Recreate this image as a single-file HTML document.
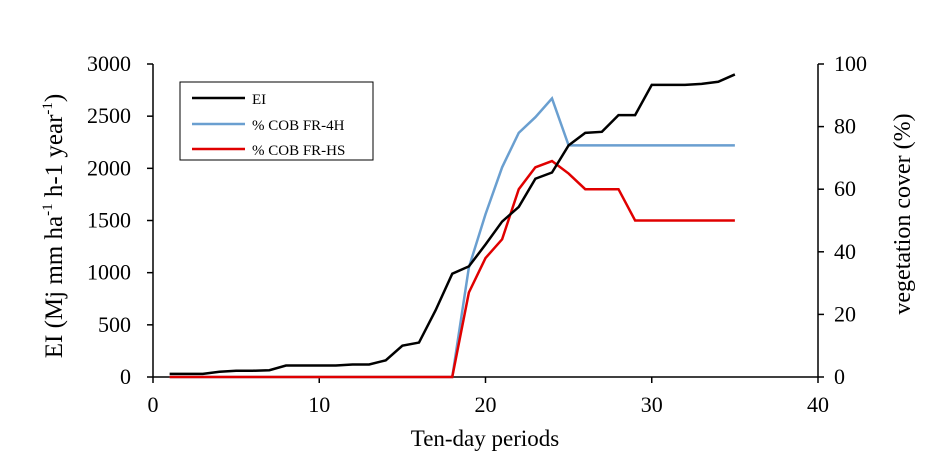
<!DOCTYPE html>
<html><head><meta charset="utf-8"><style>
body{margin:0;background:#fff}
svg text{font-family:"Liberation Serif",serif;fill:#000}
</style></head><body>
<svg width="938" height="458">
<g id="axes"></g><g id="series"></g>
<g>
<rect x="180" y="82" width="193" height="78" fill="#fff" stroke="#000" stroke-width="1"/>
<line x1="192" y1="98" x2="245" y2="98" stroke="#000" stroke-width="2.5"/>
<text x="252" y="104" font-size="15">EI</text>
<line x1="192" y1="124" x2="245" y2="124" stroke="#6a9fd0" stroke-width="2.5"/>
<text x="252" y="130" font-size="15">% COB FR-4H</text>
<line x1="192" y1="149" x2="245" y2="149" stroke="#e00000" stroke-width="2.5"/>
<text x="252" y="155" font-size="15">% COB FR-HS</text>
</g>
<text x="485" y="446" font-size="23" text-anchor="middle">Ten-day periods</text>
<text transform="translate(62,226) rotate(-90)" font-size="25" text-anchor="middle">EI (Mj mm ha<tspan font-size="15" dy="-10">-1</tspan><tspan dy="10"> h-1 year</tspan><tspan font-size="15" dy="-10">-1</tspan><tspan dy="10">)</tspan></text>
<text transform="translate(910,214) rotate(-90)" font-size="24" text-anchor="middle">vegetation cover (%)</text>
</svg>
<script>
const periods=[1,2,3,4,5,6,7,8,9,10,11,12,13,14,15,16,17,18,19,20,21,22,23,24,25,26,27,28,29,30,31,32,33,34,35];
const eiValues=[30,30,30,50,60,60,65,110,110,110,110,120,120,160,300,330,640,990,1060,1270,1490,1630,1900,1960,2220,2340,2350,2510,2510,2800,2800,2800,2810,2830,2900];
const cover4H=[0,0,0,0,0,0,0,0,0,0,0,0,0,0,0,0,0,0,35,52,67,78,83,89,74,74,74,74,74,74,74,74,74,74,74];
const coverHS=[0,0,0,0,0,0,0,0,0,0,0,0,0,0,0,0,0,0,27,38,44,60,67,69,65,60,60,60,50,50,50,50,50,50,50];
const xTicks=[0,10,20,30,40];
const yLeftTicks=[0,500,1000,1500,2000,2500,3000];
const yRightTicks=[0,20,40,60,80,100];
const X0=153,X1=818,Y0=377,Y1=64;
const sx=v=>X0+(v/40)*(X1-X0);
const syL=v=>Y0-(v/3000)*(Y0-Y1);
const syR=v=>Y0-(v/100)*(Y0-Y1);
const NS="http://www.w3.org/2000/svg";
function mk(tag,attrs,parent,txt){const e=document.createElementNS(NS,tag);for(const k in attrs)e.setAttribute(k,attrs[k]);if(txt!==undefined)e.textContent=txt;parent.appendChild(e);return e;}
const ax=document.getElementById('axes');
let l=mk('line',{x1:X0,y1:Y1,x2:X0,y2:Y0,stroke:'#000','stroke-width':1.5},ax);


l=mk('line',{x1:X1,y1:Y1,x2:X1,y2:Y0,stroke:'#000','stroke-width':1.5},ax);


l=mk('line',{x1:X0,y1:Y0,x2:X1,y2:Y0,stroke:'#000','stroke-width':1.5},ax);


xTicks.forEach(t=>{mk('line',{x1:sx(t),y1:Y0,x2:sx(t),y2:Y0+6,stroke:'#000','stroke-width':1.5},ax);
const tx=mk('text',{x:sx(t),y:Y0+35,'font-size':22,'text-anchor':'middle'},ax,t);

});
yLeftTicks.forEach(t=>{mk('line',{x1:X0-6,y1:syL(t),x2:X0,y2:syL(t),stroke:'#000','stroke-width':1.5},ax);
const tx=mk('text',{x:X0-22,y:syL(t)+7,'font-size':22,'text-anchor':'end'},ax,t);

});
yRightTicks.forEach(t=>{mk('line',{x1:X1,y1:syR(t),x2:X1+6,y2:syR(t),stroke:'#000','stroke-width':1.5},ax);
const tx=mk('text',{x:X1+16,y:syR(t)+7,'font-size':22},ax,t);

});
const sg=document.getElementById('series');
function line(vals,sy,color,name){const pts=periods.map((p,i)=>sx(p)+','+sy(vals[i])).join(' ');
const e=mk('polyline',{points:pts,fill:'none',stroke:color,'stroke-width':2.5,'stroke-linejoin':'miter'},sg);

}
line(cover4H,syR,'#6a9fd0','cob-fr-4h-line');
line(coverHS,syR,'#e00000','cob-fr-hs-line');
line(eiValues,syL,'#000','ei-line');
</script>
</body></html>
